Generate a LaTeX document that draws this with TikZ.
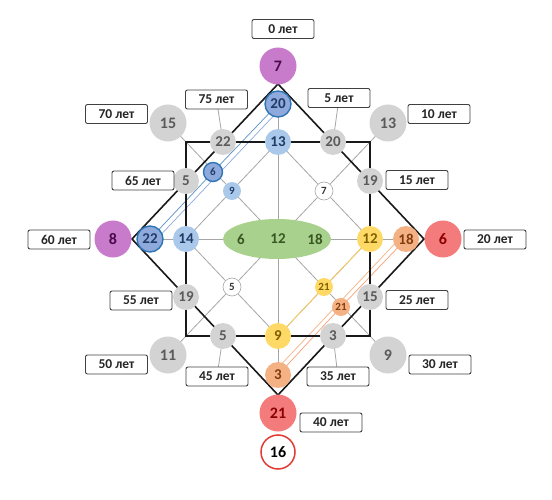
\documentclass[tikz,border=0pt]{standalone}
\usepackage{fontspec}
\setmainfont{Carlito}
\usetikzlibrary{calc,shapes.geometric}
\pgfdeclarelayer{bg}
\pgfsetlayers{bg,main}
\definecolor{cGray}{HTML}{D3D3D3}
\definecolor{tGray}{HTML}{5A5A5A}
\definecolor{cLBlue}{HTML}{A9C8EA}
\definecolor{tBlue}{HTML}{1F3B66}
\definecolor{cBlue}{HTML}{8EA9DB}
\definecolor{bBlue}{HTML}{2E75B6}
\definecolor{cPink}{HTML}{C97BCB}
\definecolor{tPink}{HTML}{4B0A4B}
\definecolor{cRed}{HTML}{F47B7B}
\definecolor{tRed}{HTML}{8B0000}
\definecolor{cYel}{HTML}{FFD966}
\definecolor{tYel}{HTML}{7F6000}
\definecolor{cPeach}{HTML}{F4B183}
\definecolor{tPeach}{HTML}{843C0C}
\definecolor{cGreen}{HTML}{A9D18E}
\definecolor{tGreen}{HTML}{385723}
\definecolor{cLine}{HTML}{A6A6A6}
\definecolor{cBox}{HTML}{404040}
\definecolor{cRing}{HTML}{E03C31}
\tikzset{
  ncirc/.style={circle, inner sep=0pt},
  nbig/.style={ncirc, minimum size=37pt, font=\fontsize{16}{16}\selectfont\bfseries},
  nmid/.style={ncirc, minimum size=26pt, font=\fontsize{15}{15}\selectfont\bfseries},
  nsml/.style={ncirc, minimum size=18pt, font=\fontsize{11}{11}\selectfont\bfseries},
  fgray/.style={fill=cGray, text=tGray},
  flblue/.style={fill=cLBlue, text=tBlue},
  fblue/.style={fill=cBlue, text=tBlue, draw=bBlue, line width=1.4pt},
  fpink/.style={fill=cPink, text=tPink},
  fred/.style={fill=cRed, text=tRed},
  fyel/.style={fill=cYel, text=tYel},
  fpeach/.style={fill=cPeach, text=tPeach},
  fwhite/.style={fill=white, text=black!80, draw=cLine, line width=0.6pt},
  lbl/.style={draw=cBox, fill=white, rounded corners=2pt, minimum width=62pt, minimum height=19pt, inner sep=0pt, line width=0.9pt, font=\fontsize{13.5}{13.5}\selectfont\bfseries, text=black!85},
  gline/.style={draw=cLine, line width=0.8pt},
  kline/.style={draw=black!90, line width=1.6pt, line join=miter},
  eltext/.style={font=\fontsize{15}{15}\selectfont\bfseries, text=tGreen, inner sep=0pt}
}
\begin{document}
\begin{tikzpicture}[x=1pt,y=-1pt]
\useasboundingbox (0,0) rectangle (552,500);
% frame coordinates
\coordinate (dT) at (278,84);
\coordinate (dR) at (424,239);
\coordinate (dB) at (278,395);
\coordinate (dL) at (132,239);
\coordinate (s1) at (186,142);
\coordinate (s2) at (370,142);
\coordinate (s3) at (370,336);
\coordinate (s4) at (186,336);
% nodes
\node[nbig,fpink] (p7) at (278,66) {7};
\node[nmid,fblue] (b20) at (278,104) {20};
\node[nmid,flblue] (lb13) at (278,142) {13};
\node[nmid,fgray] (g22) at (223,142) {22};
\node[nmid,fgray] (g20) at (333,142) {20};
\node[nbig,fgray] (G15) at (168,123) {15};
\node[nbig,fgray] (G13) at (388,123) {13};
\node[nmid,fgray] (g5l) at (186,181) {5};
\node[nsml,fblue,minimum size=19pt] (b6) at (213,172) {6};
\node[nsml,flblue] (lb9) at (232,191) {9};
\node[nsml,fwhite] (w7) at (324,191) {7};
\node[nmid,fgray] (g19r) at (370,181) {19};
\node[nbig,fpink] (p8) at (113,239) {8};
\node[nmid,fblue] (b22) at (150,239) {22};
\node[nmid,flblue] (lb14) at (186,239) {14};
\node[ellipse, fill=cGreen, minimum width=108pt, minimum height=40pt, inner sep=0pt] (ell) at (277,239) {};
\node[eltext] (e6) at (241,239) {6};
\node[eltext] (e12) at (278,239) {12};
\node[eltext] (e18) at (315,239) {18};
\node[nmid,fyel] (y12) at (370,239) {12};
\node[nmid,fpeach] (o18) at (406,239) {18};
\node[nbig,fred] (r6) at (443,239) {6};
\node[nsml,fwhite] (w5) at (232,287) {5};
\node[nsml,fyel] (y21) at (324,287) {21};
\node[nsml,fpeach] (o21) at (341,307) {21};
\node[nmid,fgray] (g19l) at (186,297) {19};
\node[nmid,fgray] (g15r) at (370,297) {15};
\node[nmid,fgray] (g5b) at (223,336) {5};
\node[nmid,fyel] (y9) at (278,336) {9};
\node[nmid,fgray] (g3) at (333,336) {3};
\node[nbig,fgray] (G11) at (168,355) {11};
\node[nbig,fgray] (G9) at (388,355) {9};
\node[nmid,fpeach] (o3) at (278,375) {3};
\node[nbig,fred] (r21) at (278,413) {21};
\node[ncirc, minimum size=34pt, fill=white, draw=cRing, line width=1.5pt, font=\fontsize{16}{16}\selectfont\bfseries] (w16) at (278,452) {16};
% labels
\node[lbl] (L0) at (283,29) {0 лет};
\node[lbl] (L5) at (339,98) {5 лет};
\node[lbl] (L10) at (439,114) {10 лет};
\node[lbl] (L15) at (417,180) {15 лет};
\node[lbl] (L20) at (495,239.5) {20 лет};
\node[lbl] (L25) at (417,300) {25 лет};
\node[lbl] (L30) at (440,364.5) {30 лет};
\node[lbl] (L35) at (338,376.5) {35 лет};
\node[lbl] (L40) at (331,422.5) {40 лет};
\node[lbl] (L45) at (217,376.5) {45 лет};
\node[lbl] (L50) at (116.5,364.5) {50 лет};
\node[lbl] (L55) at (141,300.5) {55 лет};
\node[lbl] (L60) at (59,239.5) {60 лет};
\node[lbl] (L65) at (143,180.5) {65 лет};
\node[lbl] (L70) at (116.5,114) {70 лет};
\node[lbl] (L75) at (216.5,99.5) {75 лет};
\begin{pgfonlayer}{bg}
  % grey structure
  \draw[gline] (G15.center) -- (G9.center);
  \draw[gline] (G13.center) -- (G11.center);
  \draw[gline] (lb13.center) -- (y12.center) -- (y9.center) -- (lb14.center) -- cycle;
  \draw[gline] (b20.center) -- (o3.center);
  \draw[gline] (b22.center) -- (o18.center);
  \draw[gline] (L75.center) -- (g22.center);
  \draw[gline] (L5.center) -- (g20.center);
  \draw[gline] (L45.center) -- (g5b.center);
  \draw[gline] (L35.center) -- (g3.center);
  % coloured lines
  \draw[draw=bBlue!80, line width=0.7pt] (b20.center) -- (b6.center) -- (b22.center);
  \draw[draw=cBlue, line width=0.7pt] ($(b20.center)+(3.6,3.4)$) -- ($(b22.center)+(3.6,3.4)$);
  \draw[draw=cYel!90!orange, line width=0.8pt] (y12.center) -- (y21.center) -- (y9.center);
  \draw[draw=cPeach!90!red, line width=0.7pt] (o18.center) -- (o21.center) -- (o3.center);
  \draw[draw=cPeach, line width=0.7pt] ($(o18.center)+(-3.6,-3.4)$) -- ($(o3.center)+(-3.6,-3.4)$);
  % black frames
  \draw[kline] (s1) -- (s2) -- (s3) -- (s4) -- cycle;
  \draw[kline] (dT) -- (dR) -- (dB) -- (dL) -- cycle;
\end{pgfonlayer}
\end{tikzpicture}
\end{document}
